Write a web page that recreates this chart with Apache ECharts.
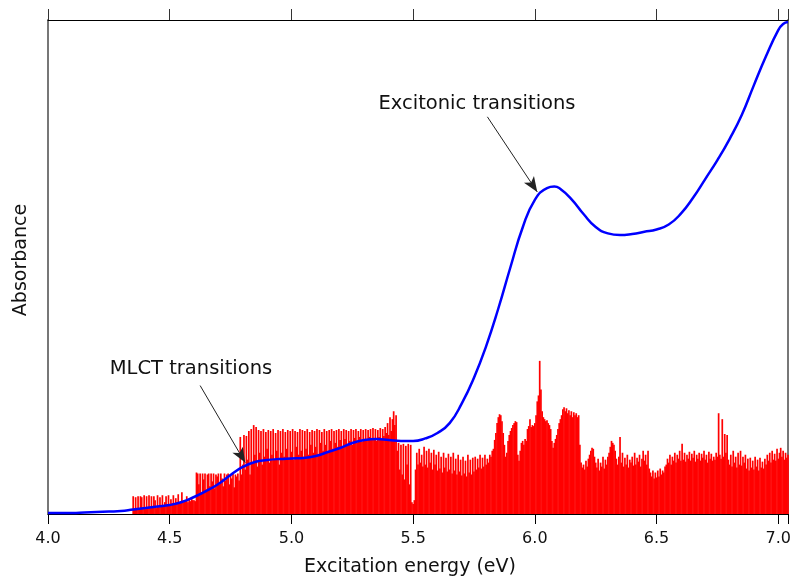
<!DOCTYPE html>
<html><head><meta charset="utf-8">
<script src="https://cdn.jsdelivr.net/npm/echarts@6/dist/echarts.min.js"></script>
<style>html,body{margin:0;padding:0;background:#fff}#c{width:791px;height:580px}</style>
</head><body><div id="c"></div>
<script>
// Absorbance curve (blue)
const absEnergy = [4.00,4.05,4.10,4.15,4.20,4.25,4.30,4.35,4.40,4.45,4.50,4.55,4.60,4.65,4.70,4.75,4.80,4.85,4.90,4.95,5.00,5.05,5.10,5.15,5.20,5.25,5.30,5.35,5.40,5.45,5.50,5.55,5.60,5.65,5.70,5.75,5.80,5.85,5.90,5.95,6.00,6.05,6.08,6.10,6.15,6.20,6.25,6.30,6.35,6.40,6.45,6.50,6.55,6.60,6.65,6.70,6.75,6.80,6.85,6.90,6.95,7.00,7.02,7.04];
const absValue = [1,1,1,1.5,2,2.5,3,4.6,6.1,7.6,9.1,12.1,17.2,23.3,30.4,39.5,47.6,52.6,54.6,55.7,56.2,56.7,58.7,62.7,66.8,71.9,74.9,75.9,74.9,73.9,73.9,76.5,82,92,112,138,170,208,250,290,318,329.9,331.4,329.9,318.8,303.6,290.4,284,282.3,283.4,285.6,288,293,304,320,339,358.2,379.5,403.8,434.1,463.5,489.8,495.9,497.9];

// Transition sticks (red): energies start at stickStart, spaced by stickStep
const stickStart = 4.35, stickStep = 0.005;
const stickHeights = [
 18,4,17,5,18,6,18,17,6,19,
 5,18,7,19,6,18,8,18,14,6,
 19,7,17,9,19,8,12,18,9,19,
 10,15,11,19,10,16,12,20,11,13,
 22,12,14,13,18,12,15,13,17,14,
 14,13,42,41,30,41,22,41,35,41,
 25,40,41,28,41,33,41,26,40,38,
 41,30,41,36,28,41,34,40,41,30,
 40,36,41,27,40,38,41,34,78,40,
 50,80,45,79,55,84,40,86,52,90,
 60,88,48,85,62,84,50,86,58,83,
 66,85,52,84,60,86,55,82,64,85,
 50,84,62,86,58,83,66,85,57,84,
 63,86,55,84,68,83,60,86,64,85,
 58,84,66,86,60,83,70,85,62,84,
 68,86,60,85,72,83,64,86,70,84,
 62,85,74,86,66,84,72,85,68,86,
 75,84,68,86,76,85,70,84,74,86,
 70,85,77,86,72,84,78,86,73,85,
 76,86,74,85,78,86,75,87,77,86,
 74,85,78,87,76,86,79,88,82,92,
 80,98,84,96,104,90,100,64,72,45,
 70,40,71,35,69,50,71,30,70,12,
 10,14,45,62,50,66,52,60,48,68,
 50,64,47,66,52,62,45,65,50,60,
 44,63,46,58,42,62,47,57,43,61,
 45,58,41,62,44,56,40,60,43,55,
 39,58,41,54,38,60,42,55,40,57,
 43,58,45,56,47,60,46,57,48,60,
 50,56,52,60,58,64,66,75,82,92,
 98,101,100,94,82,70,58,62,74,80,
 84,87,90,92,94,93,60,54,64,72,
 74,70,76,74,86,89,96,88,90,89,
 92,100,114,120,155,126,104,98,96,94,
 95,92,90,86,74,67,72,76,80,86,
 92,96,100,106,108,104,107,102,105,100,
 104,98,103,100,102,98,100,70,52,47,
 50,45,54,48,56,60,64,67,66,58,
 52,47,56,44,52,48,58,46,55,50,
 58,62,68,74,72,70,64,56,50,58,
 78,52,62,48,57,50,60,47,55,52,
 58,49,62,50,57,53,60,48,56,64,
 54,60,50,64,46,42,38,44,36,42,
 37,44,38,46,40,44,42,48,50,56,
 52,60,50,58,54,62,52,60,56,64,
 54,71,55,62,53,60,56,63,54,61,
 57,64,53,60,56,62,54,61,57,64,
 55,60,52,63,56,61,54,58,55,62,
 58,102,60,56,96,58,81,62,80,55,
 50,60,48,64,52,58,47,62,50,64,
 49,58,52,60,46,56,44,57,47,54,
 45,58,48,55,44,57,47,53,46,56,
 50,60,54,62,52,64,55,61,54,66,
 56,62,67,58,64,55,62,57,60
];

const xMin = 4.0, xMax = 7.04, xInterval = 0.5;
const yMax = 500;

// Annotations: label text and arrow [start, end] in data coordinates
const annoExcText = 'Excitonic transitions';
const annoExcArrow = [[5.805, 402], [6.01, 326]];
const annoMlctText = 'MLCT transitions';
const annoMlctArrow = [[4.625, 130], [4.81, 52]];

const FONT = 'DejaVu Sans';
const chart = echarts.init(document.getElementById('c'), null, {renderer: 'canvas'});

const stickData = stickHeights.map((h, i) => [+(stickStart + i * stickStep).toFixed(3), h]);
const absData = absEnergy.map((e, i) => [e, absValue[i]]);

chart.setOption({
  animation: false,
  backgroundColor: '#fff',
  grid: {left: 48, right: 3, top: 20, bottom: 66, containLabel: false, outerBoundsMode: 'none'},
  xAxis: [{
    type: 'value', min: xMin, max: xMax, interval: xInterval, position: 'bottom',
    axisLine: {show: true, onZero: false, lineStyle: {color: '#000', width: 1}},
    axisTick: {show: true, length: 10, lineStyle: {color: '#000', width: 1}},
    axisLabel: {formatter: v => (Math.abs(v / xInterval - Math.round(v / xInterval)) < 1e-6 ? v.toFixed(1) : ''),
      fontSize: 16, fontFamily: FONT, color: '#111', margin: 17},
    splitLine: {show: false},
    name: 'Excitation energy (eV)', nameLocation: 'middle', nameGap: 44,
    nameTextStyle: {fontSize: 19, fontFamily: FONT, color: '#111', padding: [0, 16, 0, 0]}
  }, {
    type: 'value', min: xMin, max: xMax, interval: xInterval, position: 'top',
    axisLine: {show: true, onZero: false, lineStyle: {color: '#000', width: 1}},
    axisTick: {show: true, length: 11, lineStyle: {color: '#333', width: 1}},
    axisLabel: {show: false}, splitLine: {show: false}
  }],
  yAxis: [{
    type: 'value', min: 0, max: yMax, position: 'left',
    axisLine: {show: true, onZero: false, lineStyle: {color: '#777', width: 2}},
    axisTick: {show: false}, axisLabel: {show: false}, splitLine: {show: false},
    name: 'Absorbance', nameLocation: 'middle', nameGap: 17, nameRotate: 90,
    nameTextStyle: {fontSize: 19, fontFamily: FONT, color: '#111', padding: [0, 0, 0, 14]}
  }, {
    type: 'value', min: 0, max: yMax, position: 'right',
    axisLine: {show: true, onZero: false, lineStyle: {color: '#777', width: 2}},
    axisTick: {show: false}, axisLabel: {show: false}, splitLine: {show: false}
  }],
  series: [{
    type: 'bar', name: 'sticks', xAxisIndex: 0, yAxisIndex: 0,
    data: stickData, barWidth: 1.7, itemStyle: {color: '#ff0000'}, z: 2, silent: true
  }, {
    type: 'line', name: 'absorbance', xAxisIndex: 0, yAxisIndex: 0,
    data: absData, smooth: 0.5, symbol: 'none', z: 3, silent: true,
    lineStyle: {color: '#0000ff', width: 2.5},
    markLine: {
      silent: true, symbol: ['none', 'arrow'], symbolSize: [9, 15], animation: false,
      lineStyle: {color: '#222', width: 1, type: 'solid'}, label: {show: false},
      data: [
        [{coord: annoExcArrow[0]}, {coord: annoExcArrow[1]}],
        [{coord: annoMlctArrow[0]}, {coord: annoMlctArrow[1]}]
      ]
    }
  }],
  graphic: [
    {type: 'text', x: 477, y: 104, style: {text: annoExcText, font: '19.5px "DejaVu Sans"', fill: '#111', align: 'center', verticalAlign: 'middle'}},
    {type: 'text', x: 191, y: 369, style: {text: annoMlctText, font: '19.5px "DejaVu Sans"', fill: '#111', align: 'center', verticalAlign: 'middle'}}
  ]
});
</script></body></html>
